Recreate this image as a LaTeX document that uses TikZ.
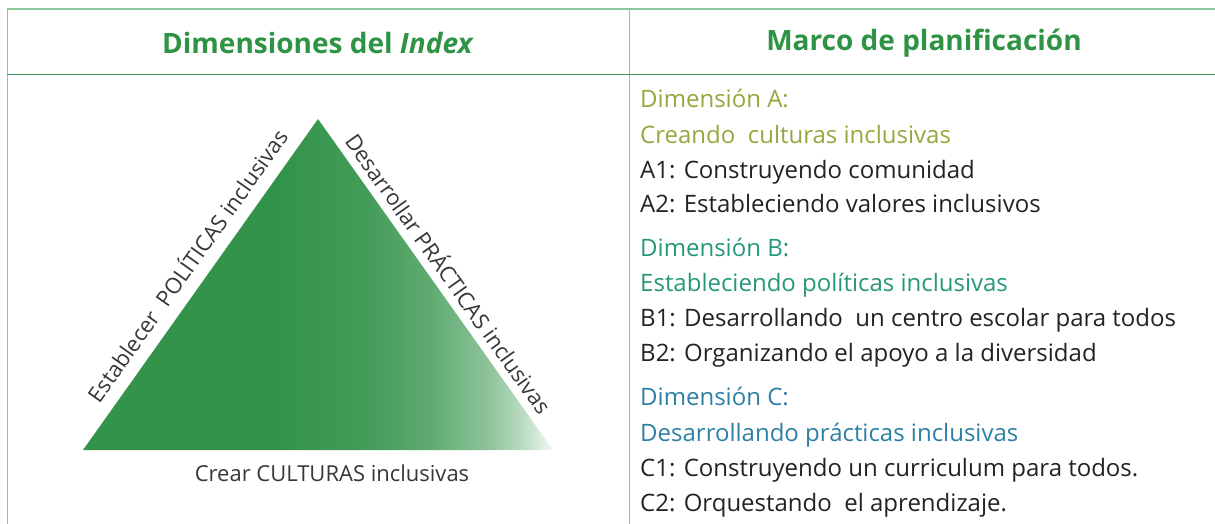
\documentclass[tikz,border=0pt]{standalone}
\usepackage{fontspec}
\setmainfont{Open Sans}
\definecolor{hdrgreen}{RGB}{46,147,68}
\definecolor{trigreen}{RGB}{51,147,74}
\definecolor{linelight}{RGB}{140,200,155}
\definecolor{linedark}{RGB}{60,150,85}
\definecolor{dimA}{RGB}{152,166,62}
\definecolor{dimB}{RGB}{38,152,122}
\definecolor{dimC}{RGB}{45,128,165}
\definecolor{txt}{RGB}{35,35,35}
\definecolor{lbl}{RGB}{55,55,55}
\pgfdeclarehorizontalshading{trishade}{100bp}{color(0bp)=(trigreen); color(25bp)=(trigreen); color(46bp)=(trigreen); color(55bp)=(trigreen!92!white); color(62bp)=(trigreen!78!white); color(68bp)=(trigreen!56!white); color(72bp)=(trigreen!32!white); color(75bp)=(trigreen!6!white); color(100bp)=(white)}
\tikzset{
  hdr/.style={font=\fontsize{28}{32}\selectfont\bfseries, text=hdrgreen, inner sep=0pt},
  item/.style={font=\fontsize{24}{28}\selectfont, anchor=base west, inner sep=0pt},
  side/.style={font=\fontsize{22}{26}\selectfont, text=lbl, inner sep=0pt}
}
\begin{document}
\begin{tikzpicture}[x=1pt,y=-1pt]
\useasboundingbox (0,0) rectangle (1215,524);
% table lines
\draw[linelight, line width=1.2pt] (7,9) -- (1215,9);
\draw[linelight, line width=1pt] (7,9) -- (7,524);
\draw[linelight, line width=1pt] (629,9) -- (629,524);
\draw[linedark, line width=1pt] (7,75) -- (1215,75);
% headers
\node[hdr] (h1) at (318,43) {Dimensiones del \textit{Index}};
\node[hdr] (h2) at (924,43) {Marco de planificación};
% triangle
\coordinate (apex) at (318,119);
\coordinate (bl) at (83,450);
\coordinate (br) at (553,450);
\shade[shading=trishade] (apex) -- (bl) -- (br) -- cycle;
\node[side, rotate=54.6] (lp) at (186,265) {Establecer\ \ POLÍTICAS inclusivas};
\node[side, rotate=-54.6] (rp) at (450,273) {Desarrollar PRÁCTICAS inclusivas};
\node[side] (bp) at (332,473) {Crear CULTURAS inclusivas};
% right column
\node[item, text=dimA] (a0) at (640,108) {Dimensión A:};
\node[item, text=dimA] (a1) at (640,143) {Creando\ \ culturas inclusivas};
\node[item, text=txt] (a2) at (640,178) {A1: Construyendo comunidad};
\node[item, text=txt] (a3) at (640,212) {A2: Estableciendo valores inclusivos};
\node[item, text=dimB] (b0) at (640,256) {Dimensión B:};
\node[item, text=dimB] (b1) at (640,291) {Estableciendo políticas inclusivas};
\node[item, text=txt] (b2) at (640,326) {B1: Desarrollando\ \ un centro escolar para todos};
\node[item, text=txt] (b3) at (640,361) {B2: Organizando el apoyo a la diversidad};
\node[item, text=dimC] (c0) at (640,405) {Dimensión C:};
\node[item, text=dimC] (c1) at (640,441) {Desarrollando prácticas inclusivas};
\node[item, text=txt] (c2) at (640,476) {C1: Construyendo un curriculum para todos.};
\node[item, text=txt] (c3) at (640,511) {C2: Orquestando\ \ el aprendizaje.};
\end{tikzpicture}
\end{document}
